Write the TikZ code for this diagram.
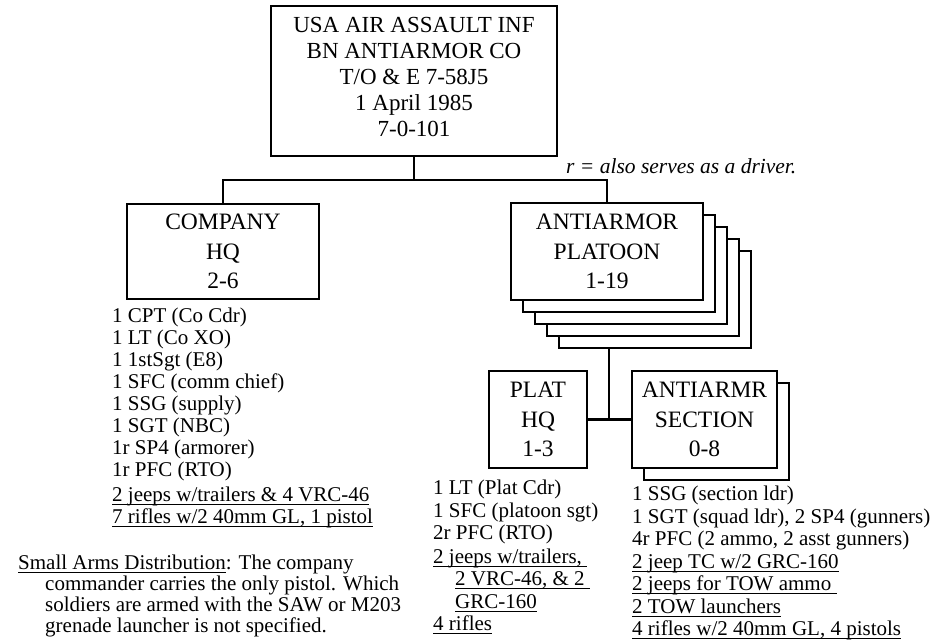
\documentclass[tikz,border=0pt]{standalone}
\usepackage{fontspec}
\setmainfont{Liberation Serif}
\newcommand{\undl}[1]{\setbox0=\hbox{#1}\rlap{\rule[-3.5pt]{\wd0}{1pt}}\box0}
\newcommand{\boxfont}{\fontsize{23.5}{29.5}\selectfont}

\begin{document}
\begin{tikzpicture}[x=1pt, y=-1pt,
  orgbox/.style={draw, line width=2.7pt, fill=white, align=center, inner sep=0pt},
  conn/.style={line width=2.7pt},
  listtxt/.style={anchor=north west, align=left, inner sep=0pt,
    font=\fontsize{21}{22}\selectfont}]
  \useasboundingbox (0,0) rectangle (945,642);
  % --- battalion antiarmor company ---
  \node[orgbox, minimum width=286pt, minimum height=150pt,
    font=\fontsize{23}{26}\selectfont] (bn) at (414,81)
    {USA AIR ASSAULT INF\\BN ANTIARMOR CO\\T/O \& E 7-58J5\\1 April 1985\\
     7-0-101\rule[-9pt]{0pt}{9pt}};
  \node[anchor=base west, inner sep=0pt, font=\fontsize{21.5}{22}\selectfont\itshape]
    (rnote) at (566,173) {r = also serves as a driver.};
  % --- company HQ ---
  \node[orgbox, minimum width=192pt, minimum height=95pt, font=\boxfont]
    (cohq) at (223,251.5) {COMPANY\\HQ\\2-6};
  % --- antiarmor platoons (stack of 5) ---
  \foreach \k in {4,3,2,1}{
    \node[orgbox, minimum width=192pt, minimum height=97pt]
      (plt\k) at ({607+12*\k},{251.5+12*\k}) {};
  }
  \node[orgbox, minimum width=192pt, minimum height=97pt, font=\boxfont]
    (plt) at (607,251.5) {ANTIARMOR\\PLATOON\\1-19};
  % --- platoon HQ and sections ---
  \node[orgbox, minimum width=98pt, minimum height=97pt, font=\boxfont]
    (plathq) at (538,419.5) {PLAT\\HQ\\1-3};
  \node[orgbox, minimum width=145pt, minimum height=97pt]
    (sect1) at (716.5,431.5) {};
  \node[orgbox, minimum width=145pt, minimum height=97pt, font=\boxfont]
    (sect) at (704.5,419.5) {ANTIARMR\\SECTION\\0-8};
  % --- connectors ---
  \coordinate (tee) at (414,180);
  \coordinate (pjoin) at (609,419.5);
  \draw[conn] (bn.south) -- (tee);
  \draw[conn] (cohq.north) |- (tee) -| (plt.north);
  \draw[conn] (plt4.south -| pjoin) -- (pjoin);
  \draw[conn] (plathq.east) -- (sect.west);
  % --- personnel and equipment ---
  \node[listtxt] (colist) at (112,308)
    {1 CPT (Co Cdr)\\1 LT (Co XO)\\1 1stSgt (E8)\\1 SFC (comm chief)\\
     1 SSG (supply)\\1 SGT (NBC)\\1r SP4 (armorer)\\1r PFC (RTO)\\[3pt]
     \undl{2 jeeps w/trailers \& 4 VRC-46}\\\undl{7 rifles w/2 40mm GL, 1 pistol}};
  \node[listtxt, font=\fontsize{21}{22.5}\selectfont] (hqlist) at (433,480)
    {1 LT (Plat Cdr)\\1 SFC (platoon sgt)\\2r PFC (RTO)\\[1pt]
     \undl{2 jeeps w/trailers,\ }\\\hspace*{22pt}\undl{2 VRC-46, \& 2\ }\\
     \hspace*{22pt}\undl{GRC-160}\\\undl{4 rifles}};
  \node[listtxt, font=\fontsize{21}{22.5}\selectfont] (sctlist) at (632,486)
    {1 SSG (section ldr)\\1 SGT (squad ldr), 2 SP4 (gunners)\\
     4r PFC (2 ammo, 2 asst gunners)\\\undl{2 jeep TC w/2 GRC-160}\\
     \undl{2 jeeps for TOW ammo\ }\\\undl{2 TOW launchers}\\
     \undl{4 rifles w/2 40mm GL, 4 pistols}};
  % --- note ---
  \node[listtxt, font=\fontsize{21}{21}\selectfont] (arms) at (18,555)
    {\undl{Small Arms Distribution}: The company\\
     \hspace*{27pt}commander carries the only pistol. Which\\
     \hspace*{27pt}soldiers are armed with the SAW or M203\\
     \hspace*{27pt}grenade launcher is not specified.};
\end{tikzpicture}
\end{document}
